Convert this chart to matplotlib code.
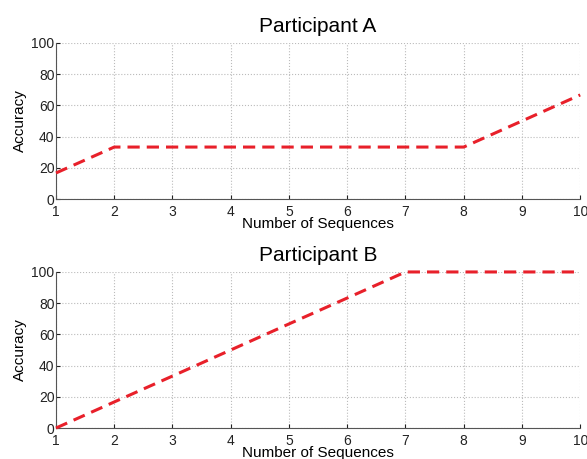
import numpy as np
import matplotlib.pyplot as plt

plt.rcParams['font.family'] = ['Liberation Sans', 'DejaVu Sans']

# data
sequences = [1, 2, 3, 4, 5, 6, 7, 8, 9, 10]
acc_a = [16.7, 33.3, 33.3, 33.3, 33.3, 33.3, 33.3, 33.3, 50.0, 66.7]
acc_b = [0.0, 16.7, 33.3, 50.0, 66.7, 83.3, 100, 100, 100, 100]
titles = ["Participant A", "Participant B"]

fig = plt.figure(figsize=(5.87, 4.59), dpi=100)
ax1 = fig.add_axes([0.0954, 0.5664, 0.893, 0.340])
ax2 = fig.add_axes([0.0954, 0.0675, 0.893, 0.340])

for ax, acc, title in zip([ax1, ax2], [acc_a, acc_b], titles):
    ax.plot(sequences, acc, color='#e8202a', linestyle='--', linewidth=2.2,
            dashes=(4, 2.3), clip_on=False, zorder=3)
    ax.set_xlim(1, 10)
    ax.set_ylim(0, 100)
    ax.set_xticks(sequences)
    ax.set_yticks([0, 20, 40, 60, 80, 100])
    ax.grid(True, linestyle=':', color='#bbbbbb', linewidth=0.8)
    ax.set_axisbelow(True)
    for s in ['top', 'right']:
        ax.spines[s].set_visible(False)
    for s in ['left', 'bottom']:
        ax.spines[s].set_color('#555555')
    ax.tick_params(direction='in', length=3, labelsize=10, colors='#222222')
    ax.tick_params(axis='x', pad=4)
    ax.tick_params(axis='y', pad=1)
    ax.set_title(title, fontsize=15, pad=8)
    ax.set_ylabel("Accuracy", fontsize=11, labelpad=3)
    ax.set_xlabel("Number of Sequences", fontsize=11, labelpad=-1)

plt.savefig('out.png', dpi=100)
